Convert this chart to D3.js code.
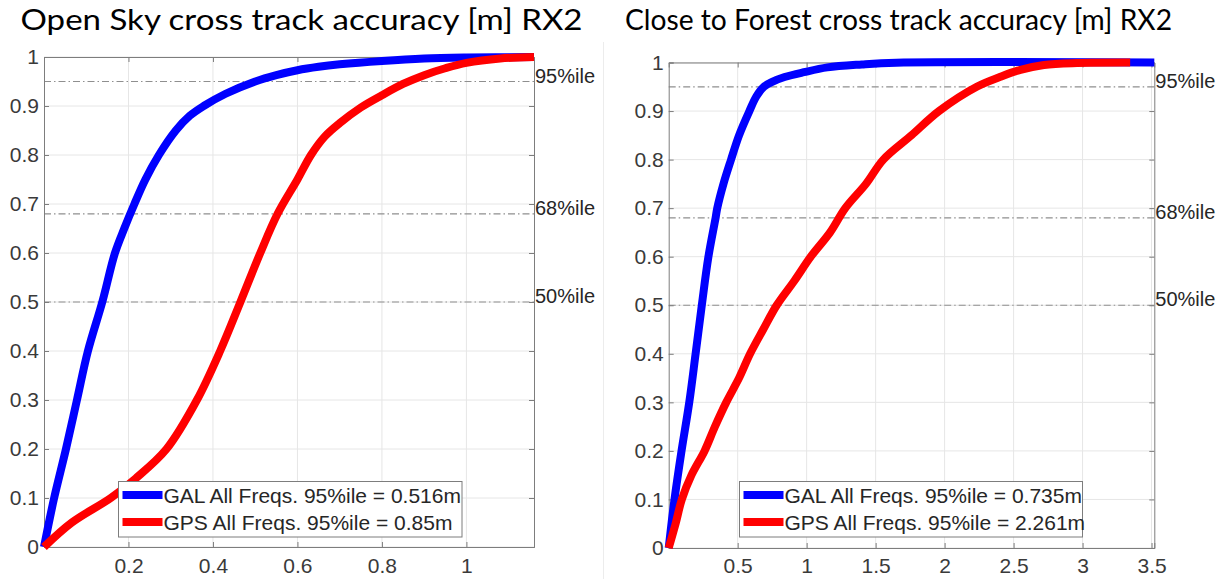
<!DOCTYPE html>
<html>
<head>
<meta charset="utf-8">
<script src="https://cdn.jsdelivr.net/npm/d3@7/dist/d3.min.js"></script>
<style>
  html, body { margin: 0; padding: 0; background: #fff; }
  svg { display: block; }
</style>
</head>
<body>
<svg id="chart" width="1222" height="579"></svg>
<script>
// ---------------- DATA ----------------
const titles = ["Open Sky cross track accuracy [m] RX2", "Close to Forest cross track accuracy [m] RX2"];
const seriesNames = ["GAL All Freqs.", "GPS All Freqs."];
const legendValues = [["0.516m", "0.85m"], ["0.735m", "2.261m"]];
const percentiles = [0.95, 0.68, 0.5];
const percentileLabels = ["95%ile", "68%ile", "50%ile"];
const yTicks = [0, 0.1, 0.2, 0.3, 0.4, 0.5, 0.6, 0.7, 0.8, 0.9, 1];
const xTicksOpenSky = [0.2, 0.4, 0.6, 0.8, 1];
const xTicksForest = [0.5, 1, 1.5, 2, 2.5, 3, 3.5];

// Open Sky - GAL (error [m], cumulative probability)
const openGalX = [0, 0.024, 0.052, 0.078, 0.104, 0.138, 0.168, 0.19, 0.214, 0.24, 0.272, 0.312, 0.345, 0.378, 0.43, 0.5, 0.55, 0.6, 0.65, 0.7, 0.8, 0.9, 1.0, 1.16];
const openGalP = [0, 0.1, 0.2, 0.3, 0.4, 0.5, 0.6, 0.65, 0.7, 0.75, 0.8, 0.85, 0.88, 0.9, 0.925, 0.95, 0.963, 0.973, 0.98, 0.985, 0.992, 0.997, 0.999, 1.0];
// Open Sky - GPS
const openGpsX = [0, 0.066, 0.158, 0.217, 0.29, 0.362, 0.417, 0.465, 0.512, 0.553, 0.6, 0.632, 0.665, 0.7, 0.75, 0.8, 0.85, 0.9, 0.95, 1.0, 1.08, 1.16];
const openGpsP = [0, 0.05, 0.1, 0.14, 0.2, 0.3, 0.4, 0.5, 0.6, 0.68, 0.75, 0.8, 0.838, 0.865, 0.897, 0.922, 0.945, 0.963, 0.977, 0.988, 0.997, 1.0];
// Close to Forest - GAL
const forestGalX = [0, 0.042, 0.093, 0.149, 0.195, 0.24, 0.288, 0.34, 0.352, 0.397, 0.452, 0.51, 0.585, 0.635, 0.69, 0.75, 0.84, 0.98, 1.15, 1.4, 1.65, 3.52];
const forestGalP = [0, 0.1, 0.2, 0.3, 0.4, 0.5, 0.6, 0.68, 0.7, 0.75, 0.8, 0.85, 0.9, 0.93, 0.95, 0.96, 0.97, 0.98, 0.99, 0.996, 0.9995, 1.0];
// Close to Forest - GPS
const forestGpsX = [0, 0.05, 0.095, 0.165, 0.26, 0.335, 0.417, 0.51, 0.59, 0.685, 0.783, 0.91, 1.03, 1.17, 1.28, 1.43, 1.556, 1.76, 1.96, 2.233, 2.4, 2.55, 2.72, 2.96, 3.345];
const forestGpsP = [0, 0.05, 0.1, 0.15, 0.2, 0.25, 0.3, 0.35, 0.4, 0.45, 0.5, 0.55, 0.6, 0.65, 0.7, 0.75, 0.8, 0.85, 0.9, 0.95, 0.97, 0.985, 0.995, 0.999, 1.0];

// ---------------- DRAWING ----------------
const svg = d3.select("#chart");
const colors = ["#0000ff", "#ff0000"];
const tickFont = "'Liberation Sans', Arial, Helvetica, sans-serif";

// faint image boundary between the two panels
svg.append("line").attr("x1", 603.5).attr("x2", 603.5).attr("y1", 42).attr("y2", 579)
  .attr("stroke", "#ececec").attr("stroke-width", 1);

function drawPanel(cfg) {
  const x = d3.scaleLinear().domain(cfg.xDomain).range([cfg.left, cfg.right]);
  const y = d3.scaleLinear().domain([0, 1]).range([cfg.bottom, cfg.top]);
  const g = svg.append("g");

  // title
  g.append("text")
    .attr("x", cfg.titleX).attr("y", 30)
    .attr("text-anchor", "middle")
    .attr("font-family", "Lato, 'Open Sans', sans-serif")
    .attr("font-size", cfg.titleSize)
    .attr("fill", "#000")
    .attr("textLength", cfg.titleWidth)
    .attr("lengthAdjust", "spacingAndGlyphs")
    .text(cfg.title);

  // grid
  g.append("g").selectAll("line").data(cfg.xTicks).join("line")
    .attr("x1", d => x(d)).attr("x2", d => x(d))
    .attr("y1", cfg.top).attr("y2", cfg.bottom)
    .attr("stroke", "#e6e6e6").attr("stroke-width", 1);
  g.append("g").selectAll("line").data(yTicks).join("line")
    .attr("x1", cfg.left).attr("x2", cfg.right)
    .attr("y1", d => y(d)).attr("y2", d => y(d))
    .attr("stroke", "#e6e6e6").attr("stroke-width", 1);

  // percentile lines
  g.append("g").selectAll("line").data(percentiles).join("line")
    .attr("x1", cfg.left).attr("x2", cfg.right)
    .attr("y1", d => y(d)).attr("y2", d => y(d))
    .attr("stroke", "#8f8f8f").attr("stroke-width", 1.2)
    .attr("stroke-dasharray", "7,3,1.5,3");

  // axes with inward ticks
  const axB = d3.axisBottom(x).tickValues(cfg.xTicks).tickSize(-5).tickPadding(cfg.xPad).tickFormat(d3.format("~g"));
  const axL = d3.axisLeft(y).tickValues(yTicks).tickSize(-5).tickPadding(5).tickFormat(d3.format("~g"));
  const axT = d3.axisTop(x).tickValues(cfg.xTicks).tickSize(-5).tickFormat("");
  const axR = d3.axisRight(y).tickValues(yTicks).tickSize(-5).tickFormat("");

  const styleAxis = sel => {
    sel.select(".domain").attr("stroke", "#7d7d7d").attr("stroke-width", 1);
    sel.selectAll(".tick line").attr("stroke", "#7d7d7d");
    sel.selectAll(".tick text").attr("fill", "#3a3a3a").attr("font-size", 21).attr("font-family", tickFont);
  };
  g.append("g").attr("transform", `translate(0,${cfg.bottom})`).call(axB).call(styleAxis);
  g.append("g").attr("transform", `translate(${cfg.left},0)`).call(axL).call(styleAxis);
  g.append("g").attr("transform", `translate(0,${cfg.top})`).call(axT).call(styleAxis);
  g.append("g").attr("transform", `translate(${cfg.right},0)`).call(axR).call(styleAxis);
  g.selectAll(".tick text").attr("font-size", 21).attr("font-family", tickFont);

  // curves
  const line = d3.line().x(d => x(d[0])).y(d => y(d[1])).curve(d3.curveCatmullRom.alpha(0.5));
  cfg.series.forEach((s, i) => {
    const pts = s.x.map((v, k) => [v, s.p[k]]);
    g.append("path").datum(pts)
      .attr("d", line)
      .attr("fill", "none")
      .attr("stroke", colors[i])
      .attr("stroke-width", 8)
      .attr("stroke-linejoin", "round");
  });

  // percentile labels
  g.append("g").selectAll("text").data(percentiles).join("text")
    .attr("x", cfg.right + 1).attr("y", d => y(d) + 1)
    .attr("font-family", tickFont).attr("font-size", 20).attr("fill", "#262626")
    .text((d, i) => percentileLabels[i]);

  // legend
  const lg = g.append("g");
  lg.append("rect")
    .attr("x", cfg.legX).attr("y", 481.5).attr("width", cfg.legW).attr("height", 55.5)
    .attr("fill", "#fff").attr("stroke", "#7d7d7d").attr("stroke-width", 1);
  cfg.series.forEach((s, i) => {
    const cy = 495 + i * 27;
    lg.append("line")
      .attr("x1", cfg.legX + 4).attr("x2", cfg.legX + 44)
      .attr("y1", cy).attr("y2", cy)
      .attr("stroke", colors[i]).attr("stroke-width", 8);
    lg.append("text")
      .attr("x", cfg.legX + 45).attr("y", cy + 7.5)
      .attr("font-family", tickFont).attr("font-size", 21).attr("fill", "#262626")
      .text(`${seriesNames[i]} 95%ile = ${cfg.legendVals[i]}`);
  });
}

drawPanel({
  title: titles[0], titleX: 301.5, titleSize: 28, titleWidth: 562,
  left: 44, right: 534, top: 57, bottom: 547, xPad: 11.5,
  xDomain: [0, 1.16], xTicks: xTicksOpenSky,
  series: [{ x: openGalX, p: openGalP }, { x: openGpsX, p: openGpsP }],
  legendVals: legendValues[0], legX: 118.5, legW: 343.5
});

drawPanel({
  title: titles[1], titleX: 898.5, titleSize: 28, titleWidth: 547,
  left: 668.7, right: 1154.3, top: 62.5, bottom: 548, xPad: 10.5,
  xDomain: [0, 3.52], xTicks: xTicksForest,
  series: [{ x: forestGalX, p: forestGalP }, { x: forestGpsX, p: forestGpsP }],
  legendVals: legendValues[1], legX: 739.5, legW: 343
});
</script>
</body>
</html>
